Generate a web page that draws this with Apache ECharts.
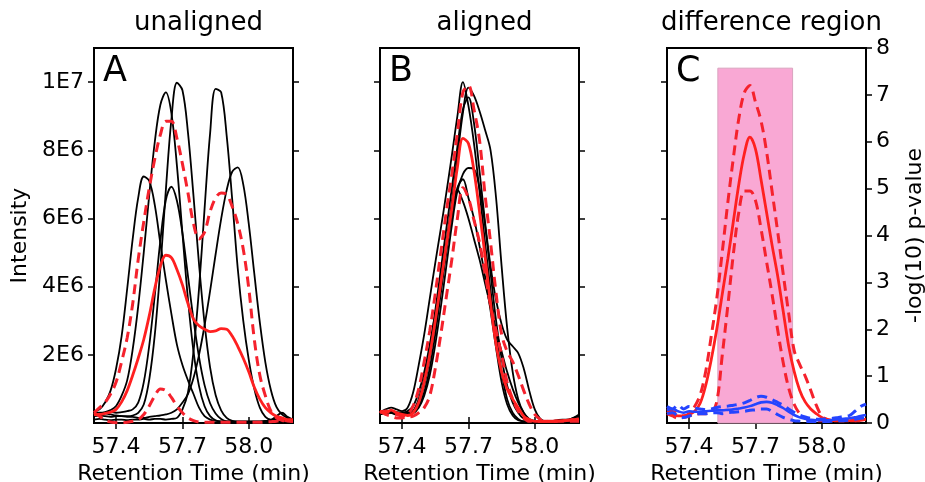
<!DOCTYPE html>
<html>
<head>
<meta charset="utf-8">
<script src="https://cdn.jsdelivr.net/npm/echarts@6/dist/echarts.min.js"></script>
<style>html,body{margin:0;padding:0;background:#fff;}#c{width:925px;height:482px;}</style>
</head>
<body>
<div id="c"></div>
<script>
// Retention time sampling grid (min)
const xs = [57.300,57.325,57.350,57.375,57.400,57.425,57.450,57.475,57.500,57.525,57.550,57.575,57.600,57.625,57.650,57.675,57.700,57.725,57.750,57.775,57.800,57.825,57.850,57.875,57.900,57.925,57.950,57.975,58.000,58.025,58.050,58.075,58.100,58.125,58.150,58.175,58.200];
const xTickValues = [57.4, 57.7, 58.0];
const yTickValues = [2, 4, 6, 8, 10];          // intensity, millions
const yTickLabels = ['2E6', '4E6', '6E6', '8E6', '1E7'];
const panelTitles = ['unaligned', 'aligned', 'difference region'];
const panelLetters = ['A', 'B', 'C'];
const diffRegion = [57.53, 57.868];            // retention time bounds
const diffRegionTop = 7.57;                    // -log10 p

// Panel A (unaligned), intensity in millions
const aBlack1 = [0.35,0.4,0.6,0.95,1.6,2.55,3.93,5.4,6.61,7.23,7.1,6.39,5.27,4.2,3.2,2.3,1.7,1.25,0.85,0.45,0.2,0.1,0.06,0.05,0.05,0.05,0.05,0.05,0.05,0.05,0.05,0.06,0.08,0.1,0.12,0.1,0.08];
const aBlack2 = [0.3,0.3,0.32,0.38,0.5,0.8,1.25,2.16,3.43,5.0,6.7,8.25,9.33,9.7,9.09,7.55,5.56,3.63,2.1,1.08,0.49,0.2,0.08,0.04,0.03,0.03,0.03,0.03,0.03,0.03,0.03,0.03,0.04,0.05,0.05,0.05,0.05];
const aBlack3 = [0.2,0.22,0.2,0.18,0.2,0.2,0.2,0.22,0.3,0.54,1.28,2.59,4.53,6.84,8.9,9.98,9.76,8.52,6.66,4.66,2.92,1.63,0.82,0.37,0.15,0.06,0.03,0.03,0.03,0.03,0.03,0.03,0.03,0.03,0.03,0.03,0.03];
const aBlack4 = [0.3,0.28,0.3,0.32,0.3,0.32,0.35,0.4,0.6,1.19,2.28,3.75,5.34,6.54,6.93,6.52,5.57,4.31,3.03,1.93,1.11,0.58,0.28,0.12,0.05,0.04,0.04,0.04,0.04,0.04,0.04,0.05,0.08,0.15,0.12,0.06,0.04];
const aBlack5 = [0.1,0.12,0.1,0.08,0.1,0.1,0.08,0.1,0.1,0.12,0.1,0.12,0.12,0.1,0.12,0.15,0.4,0.9,2.1,3.94,6.28,8.49,9.8,9.7,8.43,6.56,4.54,3.0,1.85,1.0,0.45,0.18,0.1,0.2,0.3,0.18,0.1];
const aBlack6 = [0.3,0.25,0.28,0.25,0.22,0.2,0.18,0.18,0.15,0.15,0.18,0.2,0.22,0.25,0.3,0.4,0.6,0.85,1.32,2.0,2.86,3.87,4.95,5.98,6.83,7.37,7.5,7.0,5.84,4.38,2.95,1.78,0.97,0.47,0.25,0.15,0.1];
const aRedDash1 = [0.3,0.45,0.6,0.85,1.2,1.8,2.5,3.5,4.8,5.9,6.9,7.75,8.45,8.85,8.85,8.35,7.6,6.75,5.85,5.4,5.6,6.2,6.6,6.75,6.7,6.35,5.85,5.1,3.95,2.45,1.4,0.8,0.35,0.15,0.08,0.05,0.05];
const aRedDash2 = [0.3,0.2,0.08,0.03,0.01,0.01,0.02,0.05,0.1,0.25,0.5,0.8,1.0,0.95,0.75,0.5,0.3,0.15,0.07,0.03,0.02,0.02,0.02,0.02,0.02,0.02,0.02,0.02,0.02,0.02,0.02,0.03,0.04,0.05,0.08,0.06,0.05];
const aRedSolid = [0.25,0.25,0.28,0.32,0.4,0.62,0.95,1.4,1.9,2.45,3.15,3.95,4.6,4.92,4.85,4.5,4.05,3.5,3.05,2.85,2.75,2.68,2.7,2.77,2.75,2.55,2.25,1.9,1.5,1.05,0.7,0.45,0.3,0.2,0.15,0.1,0.1];

// Panel B (aligned), intensity in millions
const bBlack1 = [0.3,0.4,0.45,0.4,0.35,0.45,0.9,1.7,2.6,3.65,4.7,5.7,6.75,7.85,9.0,10.0,9.3,8.2,6.8,5.3,3.9,2.6,1.5,0.7,0.3,0.12,0.05,0.05,0.05,0.05,0.05,0.06,0.08,0.1,0.1,0.15,0.2];
const bBlack2 = [0.25,0.3,0.35,0.3,0.3,0.35,0.5,0.9,1.5,2.3,3.2,4.2,5.3,6.5,7.8,9.1,9.84,9.6,9.15,8.6,8.0,6.6,4.6,2.8,1.5,0.7,0.3,0.12,0.06,0.05,0.05,0.06,0.07,0.08,0.1,0.12,0.15];
const bBlack3 = [0.25,0.3,0.3,0.28,0.28,0.28,0.3,0.45,0.8,1.4,2.3,3.4,4.6,5.8,6.8,7.3,7.48,7.45,6.9,5.8,4.4,3.0,1.9,1.1,0.6,0.3,0.12,0.05,0.05,0.05,0.05,0.05,0.05,0.05,0.05,0.05,0.05];
const bBlack4 = [0.3,0.32,0.3,0.25,0.25,0.3,0.35,0.6,1.1,1.9,2.9,4.0,5.1,6.1,6.9,7.15,6.6,6.0,5.2,4.3,3.3,2.2,1.2,0.55,0.22,0.08,0.05,0.05,0.05,0.05,0.05,0.05,0.05,0.05,0.05,0.05,0.05];
const bBlack5 = [0.3,0.35,0.3,0.28,0.3,0.3,0.3,0.5,0.9,1.6,2.6,3.8,5.0,6.1,6.85,6.5,6.0,5.4,4.8,4.1,3.4,2.7,2.1,1.5,1.0,0.6,0.3,0.1,0.05,0.05,0.05,0.05,0.05,0.05,0.05,0.05,0.05];
const bBlack6 = [0.3,0.3,0.35,0.32,0.3,0.3,0.35,0.7,1.3,2.2,3.3,4.5,5.7,6.9,8.1,9.2,9.55,8.8,7.4,5.9,4.6,3.6,2.9,2.45,2.25,2.05,1.6,0.95,0.4,0.12,0.05,0.05,0.05,0.06,0.08,0.15,0.25];
const bRedDash1 = [0.3,0.35,0.3,0.25,0.2,0.25,0.5,1.0,1.8,2.7,3.8,5.0,6.2,7.3,8.5,9.7,9.9,9.2,8.3,6.7,5.3,3.8,2.6,2.1,1.8,1.4,0.95,0.55,0.25,0.1,0.05,0.05,0.05,0.06,0.08,0.1,0.12];
const bRedDash2 = [0.35,0.25,0.2,0.15,0.15,0.18,0.2,0.3,0.45,0.8,1.6,2.6,3.7,4.8,6.0,6.9,6.6,5.95,5.3,4.4,3.45,2.7,2.0,1.2,0.7,0.35,0.15,0.05,0.05,0.05,0.05,0.05,0.05,0.05,0.05,0.05,0.05];
const bRedSolid = [0.35,0.3,0.38,0.3,0.25,0.22,0.3,0.6,1.2,2.0,3.0,4.1,5.2,6.3,7.5,8.35,8.2,7.4,6.2,4.9,3.5,2.3,1.5,1.0,0.7,0.45,0.2,0.1,0.05,0.05,0.05,0.05,0.06,0.07,0.08,0.1,0.12];

// Panel C (difference region), -log10 p-value
const cRedSolid = [0.25,0.2,0.15,0.15,0.18,0.25,0.42,0.8,1.35,2.0,2.75,3.5,4.3,5.1,5.75,6.1,5.85,5.2,4.5,3.8,3.15,2.4,1.65,1.1,0.7,0.45,0.3,0.2,0.12,0.08,0.05,0.05,0.05,0.05,0.06,0.07,0.08];
const cRedDashHi = [0.3,0.25,0.2,0.15,0.2,0.35,0.6,1.1,1.85,2.65,3.65,4.7,5.65,6.5,7.05,7.2,6.85,6.45,5.8,4.95,4.1,3.2,2.35,1.55,1.25,1.0,0.7,0.38,0.15,0.07,0.05,0.05,0.05,0.05,0.05,0.06,0.08];
const cRedDashLo = [0.2,0.15,0.1,0.12,0.15,0.2,0.2,0.2,0.22,0.45,1.45,2.5,3.6,4.5,4.95,4.95,4.75,4.15,3.45,2.75,2.0,1.3,0.75,0.4,0.2,0.1,0.05,0.05,0.05,0.05,0.05,0.05,0.05,0.05,0.05,0.05,0.05];
const cBlueSolid = [0.28,0.3,0.25,0.22,0.25,0.24,0.24,0.25,0.26,0.27,0.27,0.28,0.29,0.31,0.33,0.36,0.4,0.44,0.45,0.43,0.38,0.32,0.24,0.17,0.12,0.09,0.07,0.06,0.06,0.06,0.07,0.08,0.09,0.1,0.12,0.15,0.17];
const cBlueDashHi = [0.35,0.3,0.38,0.3,0.35,0.32,0.3,0.28,0.3,0.33,0.35,0.36,0.38,0.4,0.43,0.48,0.54,0.57,0.55,0.5,0.44,0.38,0.3,0.23,0.17,0.13,0.1,0.08,0.08,0.09,0.1,0.12,0.14,0.16,0.25,0.35,0.4];
const cBlueDashLo = [0.2,0.22,0.15,0.12,0.15,0.18,0.2,0.2,0.22,0.22,0.2,0.22,0.23,0.24,0.25,0.27,0.28,0.3,0.3,0.25,0.18,0.12,0.08,0.05,0.04,0.03,0.03,0.03,0.03,0.03,0.04,0.05,0.05,0.06,0.08,0.1,0.12];

const FONT = 'DejaVu Sans';
const gridLefts = [94, 380, 667];
const GW = 199;

const BLACK = {color:'#000', width:1.8, type:'solid'};
const RED = {color:'#ff2020', width:2.8, type:'solid'};
const REDD = {color:'#f5222d', width:3, type:[10,6]};
const BLUE = {color:'#2444ff', width:2.6, type:'solid'};
const BLUED = {color:'#2444ff', width:3, type:[10,6]};

function line(ys, xi, yi, style, extra) {
  return Object.assign({
    type:'line', xAxisIndex:xi, yAxisIndex:yi,
    data: xs.map((x,i)=>[x, ys[i]]),
    showSymbol:false, symbol:'none', smooth:0.35, silent:true,
    lineStyle: style, z: 3
  }, extra || {});
}

const tickStyle = {color:'#000', width:1.5};
function xBottom(g) {
  return {type:'value', gridIndex:g, min:57.3, max:58.2, position:'bottom',
    axisLine:{show:false}, splitLine:{show:false},
    axisTick:{show:true, customValues:xTickValues, length:6, lineStyle:tickStyle},
    axisLabel:{customValues:xTickValues, formatter:v=>Number(v).toFixed(1), fontSize:22, color:'#000', fontFamily:FONT, margin:13},
    name:'Retention Time (min)', nameLocation:'middle', nameGap:40,
    nameTextStyle:{fontSize:22, color:'#000', fontFamily:FONT}};
}
function xTop(g) {
  return {type:'value', gridIndex:g, min:57.3, max:58.2, position:'top',
    axisLine:{show:false}, splitLine:{show:false},
    axisTick:{show:true, customValues:xTickValues, length:6, lineStyle:tickStyle},
    axisLabel:{show:false}};
}
function yInt(g, pos, labels) {
  const ax = {type:'value', gridIndex:g, min:0, max:11, position:pos,
    axisLine:{show:false}, splitLine:{show:false},
    axisTick:{show:true, customValues:yTickValues, length:6, lineStyle:tickStyle},
    axisLabel:{show:labels, customValues:yTickValues,
      formatter:v=>yTickLabels[yTickValues.indexOf(Math.round(v))] || '',
      fontSize:22, color:'#000', fontFamily:FONT, margin:10}};
  if (labels) {
    ax.name = 'Intensity'; ax.nameLocation = 'middle'; ax.nameGap = 63; ax.nameRotate = 90;
    ax.nameTextStyle = {fontSize:22, color:'#000', fontFamily:FONT};
  }
  return ax;
}

const option = {
  animation:false,
  backgroundColor:'#fff',
  title: [
    ...panelTitles.map((t,i)=>({text:t, left:gridLefts[i]+GW/2, top:5, textAlign:'center',
      textStyle:{fontSize:26, fontWeight:'normal', color:'#000', fontFamily:FONT}})),
    ...panelLetters.map((t,i)=>({text:t, left:gridLefts[i]+4, top:49,
      textStyle:{fontSize:35, fontWeight:'normal', color:'#000', fontFamily:FONT}}))
  ],
  grid: gridLefts.map(l=>({left:l, width:GW, top:48, bottom:59, show:true,
    borderColor:'#000', borderWidth:2, backgroundColor:'transparent',
    containLabel:false, outerBoundsMode:'none'})),
  xAxis: [xBottom(0), xTop(0), xBottom(1), xTop(1), xBottom(2), xTop(2)],
  yAxis: [
    yInt(0,'left',true), yInt(0,'right',false),
    yInt(1,'left',false), yInt(1,'right',false),
    yInt(2,'left',false),
    {type:'value', gridIndex:2, min:0, max:8, interval:1, position:'right',
      axisLine:{show:false}, splitLine:{show:false},
      axisTick:{show:true, length:6, lineStyle:tickStyle},
      axisLabel:{fontSize:22, color:'#000', fontFamily:FONT, margin:10},
      name:'-log(10) p-value', nameLocation:'middle', nameGap:38, nameRotate:90,
      nameTextStyle:{fontSize:22, color:'#000', fontFamily:FONT}}
  ],
  series: [
    // Panel A
    line(aBlack1,0,0,BLACK), line(aBlack2,0,0,BLACK), line(aBlack3,0,0,BLACK),
    line(aBlack4,0,0,BLACK), line(aBlack5,0,0,BLACK), line(aBlack6,0,0,BLACK),
    line(aRedDash1,0,0,REDD), line(aRedDash2,0,0,REDD), line(aRedSolid,0,0,RED),
    // Panel B
    line(bBlack1,2,2,BLACK), line(bBlack2,2,2,BLACK), line(bBlack3,2,2,BLACK),
    line(bBlack4,2,2,BLACK), line(bBlack5,2,2,BLACK), line(bBlack6,2,2,BLACK),
    line(bRedDash1,2,2,REDD), line(bRedDash2,2,2,REDD), line(bRedSolid,2,2,RED),
    // Panel C
    line(cRedDashHi,4,5,REDD,{markArea:{silent:true, z:1,
      itemStyle:{color:'#f9a8d4', borderColor:'#d9a3be', borderWidth:1},
      data:[[{xAxis:diffRegion[0], yAxis:0},{xAxis:diffRegion[1], yAxis:diffRegionTop}]]}}),
    line(cRedDashLo,4,5,REDD), line(cRedSolid,4,5,RED),
    line(cBlueDashHi,4,5,BLUED), line(cBlueDashLo,4,5,BLUED), line(cBlueSolid,4,5,BLUE)
  ]
};

const chart = echarts.init(document.getElementById('c'), null, {renderer:'canvas'});
chart.setOption(option);
</script>
</body>
</html>
